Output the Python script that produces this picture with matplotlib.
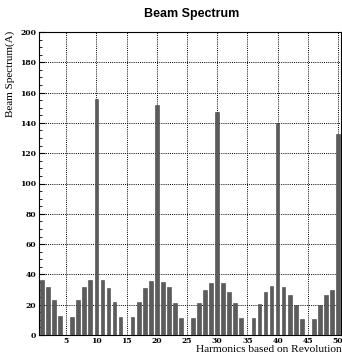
import numpy as np
import matplotlib
matplotlib.use("Agg")
import matplotlib.pyplot as plt
from matplotlib.ticker import MultipleLocator

harmonics = list(range(1, 51))
spectrum = [
    36.6, 31.6, 22.9, 12.4, 0, 12.0, 23.0, 31.6, 36.0, 155.5,
    36.0, 30.7, 22.0, 12.0, 0, 12.0, 22.0, 30.7, 35.4, 152.0,
    35.0, 31.5, 21.4, 11.5, 0, 11.5, 21.0, 29.5, 34.5, 147.0,
    34.0, 28.5, 21.0, 11.4, 0, 11.0, 20.5, 28.5, 32.5, 140.0,
    32.0, 26.5, 20.0, 10.5, 0, 10.5, 19.5, 26.5, 30.0, 132.5,
]
y_ticks = list(range(0, 201, 20))
x_ticks = list(range(5, 51, 5))

fig = plt.figure(figsize=(3.42, 3.54), dpi=100)
ax = fig.add_axes([39 / 342, 19 / 354, 302 / 342, 303 / 354])

ax.bar(harmonics, spectrum, width=0.62, color="#5c5c5c", edgecolor="#444444",
       linewidth=0.4, zorder=3)

ax.set_xlim(0.5, 50.5)
ax.set_ylim(0, 200)
ax.set_xticks(x_ticks)
ax.set_yticks(y_ticks)
ax.yaxis.set_minor_locator(MultipleLocator(5))
ax.tick_params(axis="both", which="both", direction="in", labelsize=5.5,
               pad=2)
ax.tick_params(axis="y", which="major", length=4, width=0.8)
ax.tick_params(axis="y", which="minor", length=2.5, width=0.6)
ax.tick_params(axis="x", which="major", length=0, pad=1.5)
for lab in ax.get_xticklabels() + ax.get_yticklabels():
    lab.set_fontfamily("DejaVu Serif")
    lab.set_fontweight("bold")

# dotted grid like the original
ax.grid(True, which="major", color="black", linestyle=(0, (1, 1.2)),
        linewidth=0.7, zorder=1)
for s in ax.spines.values():
    s.set_linewidth(0.8)
ax.spines["right"].set_linestyle((0, (1, 1)))

fig.text(192 / 342, 1 - 14 / 354, "Beam Spectrum", ha="center", va="center",
         fontsize=9, fontweight="bold", family="Liberation Sans")
fig.text(10 / 342, 1 - 31 / 354, "Beam Spectrum(A)", ha="center", va="top",
         rotation=90, fontsize=8, family="Liberation Serif")
fig.text(1.0, 0.0, "Harmonics based on Revolution", ha="right",
         va="bottom", fontsize=8.2, family="Liberation Serif")

fig.savefig("out.png", dpi=100)
